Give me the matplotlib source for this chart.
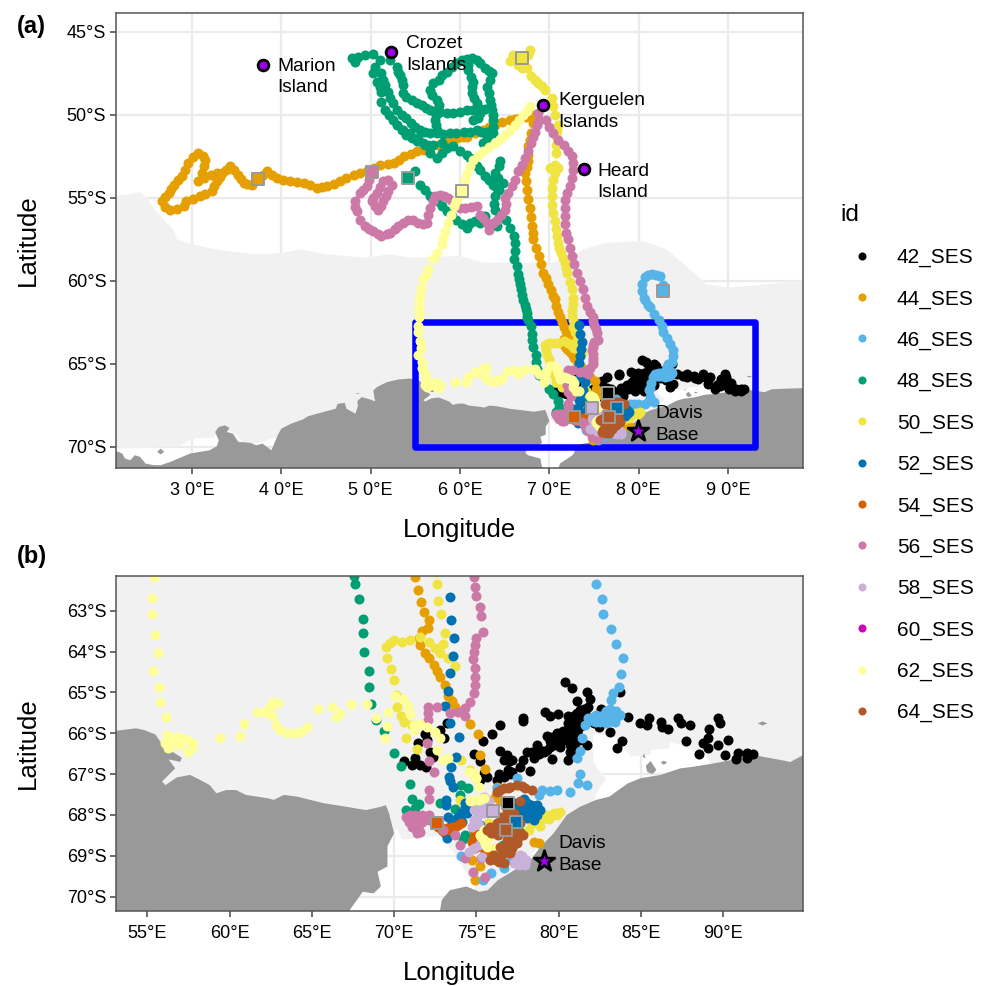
import matplotlib
matplotlib.use('Agg')
import matplotlib.pyplot as plt
from matplotlib.lines import Line2D
from matplotlib.patches import Polygon, Rectangle

plt.rcParams['font.family'] = ['Liberation Sans', 'DejaVu Sans']

# all positions below are (longitude E, latitude S)
ids = ['42_SES', '44_SES', '46_SES', '48_SES', '50_SES', '52_SES',
       '54_SES', '56_SES', '58_SES', '60_SES', '62_SES', '64_SES']
colours = ['#000000', '#E69F00', '#56B4E9', '#009E73', '#F0E442', '#0072B2',
           '#D55E00', '#CC79A7', '#C9B1D9', '#D000C0', '#FFFF99', '#B15928']

ses_42 = [(80.4,64.75),(80.83,64.9),(81.72,65.0),(81.15,65.2),(81.92,65.15),(83.75,65.0),(81.82,65.35),(81.3,65.43),
 (82.6,65.4),(84.25,65.6),(84.96,65.74),(85.47,65.63),(85.36,65.8),(86.23,65.72),(86.28,65.84),(86.64,65.89),
 (87.25,65.63),(87.45,65.76),(88,65.8),(89.68,65.62),(89.82,65.76),(89.17,65.9),(83.1,65.98),(83.85,66.19),
 (83.54,66.37),(87.73,66.19),(88.8,66.25),(89.1,66.12),(89.1,66.35),(89.68,66.29),(90.32,66.16),(88.56,66.51),
 (90.12,66.54),(90.77,66.64),(90.93,66.49),(91.44,66.49),(91.44,66.61),(91.84,66.52),(79.19,65.47),(79.49,65.58),
 (79.94,65.53),(80.57,65.57),(77.83,65.63),(77.83,65.69),(76.42,65.8),(75.95,66.02),(75.38,66.19),(80.91,65.68),
 (81.32,65.59),(81.62,65.51),(81.72,65.68),(82.13,65.76),(82.43,65.84),(80.91,65.84),(80.5,65.92),(80.1,66),
 (79.29,66.06),(79.7,66.16),(80.3,66.08),(80.91,66.08),(81.32,66.16),(81.72,66.29),(79.9,66.25),(79.49,66.33),
 (79.09,66.45),(78.68,66.29),(78.08,66.47),(78.38,66.45),(80.7,66.45),(79.6,66.64),(80.55,66.65),(77.87,66.65),
 (77.67,66.82),(77.17,66.96),(78.28,66.92),(76.46,66.43),(76.86,66.53),(76.66,66.65),(76.96,66.69),(77.17,66.65),
 (74.84,66.52),(75.24,66.69),(75.45,66.98),(75.65,67.06),(75.24,67.14),(76.25,67.14),(76.66,67.06),(77.07,66.99),
 (73.22,65.76),(72.81,65.92),(71.9,66.03),(72,66.16),(73.02,66.12),(71.44,66.23),(72.2,66.47),(72.37,66.57),
 (70.59,66.67),(71.3,66.6),(71.09,66.78),(71.6,66.78),(71.96,66.83),(79.9,66.12),(80.5,66.16),(80.1,66.33),
 (80.7,66.29),(81.1,65.84),(81.3,65.76),(81,65.55),(80.6,65.75),(80.3,65.95),(79.5,66.2),(79.9,66),(80.7,66),(81.1,66),
 (81.5,65.6),(81.1,65.5),(81.55,65.4),(80.8,65.95),(80.4,66.05),(80.15,66.2),(79.75,66.3),(79.3,66.4),(78.9,66.4),
 (80.95,66.2),(81,66.35),(80.6,66.1),(81.2,65.9),(81.5,65.8),(79.6,66.08),(80.05,66.1),(78.8,66.5),(78.5,66.6),(76.9,66.9),(76.4,67)]

ses_44 = [(37.35,53.86),(36.7,54.2),(36.2,54.15),(35.8,54.1),(35.5,53.85),(35.2,53.6),(34.7,53.3),(34.3,53.1),(33.8,53.3),
 (33.4,53.5),(33.1,53.75),(32.8,54),(32.5,54.3),(32.2,54.6),(31.5,54.75),(30.9,54.9),(30.1,55.05),(29.3,55.2),(29.1,55.5),
 (28.3,55.65),(27.6,55.7),(27,55.55),(26.6,55.2),(27,54.95),(27.4,54.7),(27.7,54.45),(28,54.2),(28.45,53.95),(28.9,53.7),
 (29.25,53.3),(29.6,52.9),(30.1,52.55),(30.7,52.3),(31.2,52.45),(31.5,52.7),(31.3,53.1),(31.1,53.5),(30.7,54),(31.4,53.8),
 (32.1,53.6),(32.8,53.5),(37.9,53.6),(38.4,53.4),(39,53.6),(39.5,53.8),(40.2,53.9),(41,54),(41.8,54.05),(42.5,54.1),
 (43.2,54.25),(44,54.4),(44.6,54.35),(45.1,54.3),(45.9,54.15),(46.6,54),(47.3,53.8),(48.1,53.6),(48.8,53.5),(49.6,53.4),
 (50.4,53.2),(51.1,53),(51.9,52.95),(52.6,52.9),(53.2,52.7),(53.7,52.5),(54.5,52.35),(55.2,52.2),(56,52.1),(56.7,52),
 (57.5,51.8),(58.2,51.6),(59,51.5),(59.7,51.4),(60.3,51.35),(60.8,51.3),(61.7,51.1),(62.6,50.9),(63.2,50.75),(63.9,50.6),
 (64.7,50.45),(65.6,50.3),(66.2,50.25),(66.7,50.2),(67.4,50.1),(68,50),(68.2,50.5),(68,51.1),(67.85,51.5),(67.65,51.9),
 (67.65,52.4),(67.65,52.8),(67.45,53.15),(67.3,53.5),(67.4,54),(67.5,54.5),(67.65,55.05),(67.8,55.6),(67.95,56.15),(68.1,56.7),
 (68.15,57.1),(68.2,57.5),(68.5,58),(68.8,58.5),(69.05,59),(69.3,59.5),(69.6,59.85),(69.9,60.2),(70.15,60.55),(70.45,60.9),
 (70.6,61.1),(70.8,61.5),(71,61.85),(71.25,62.18),(71.45,62.49),(71.65,62.78),(71.85,63.04),(72.1,63.23),(72.05,63.43),(71.7,63.51),
 (71.5,63.68),(71.6,63.84),(71.9,64.04),(72.1,64.15),(72.4,64.33),(72.6,64.47),(72.8,64.62),(73.1,64.82),(73.3,65.1),(73.5,65.2),
 (73.7,65.35),(74.6,65.77),(75.1,66.03),(75.2,66.53),(75.5,66.88),(76.25,67.31),(76.15,67.55),(76.4,67.6),(76.7,67.7),(78.8,68.69),
 (78.5,68.65),(74.75,69.1),(75.2,69.26),(74.9,69.59)]

ses_46 = [(82.7,60.6),(82.7,60.24),(82.4,59.7),(81.9,59.62),(81.5,59.58),(81.1,59.65),(80.7,59.76),(80.4,60.18),(80.4,60.6),
 (80.6,61.02),(80.7,61.14),(81.1,61.45),(81.3,61.6),(81.75,62),(82.3,62.34),(82.67,62.71),(82.73,63.09),(83.2,63.44),(83.5,63.82),
 (83.9,64.15),(83.8,64.54),(83.7,64.86),(83.3,65.02),(83.2,65.19),(83.1,65.41),(83.75,65.55),(83.45,65.72),(82.9,65.6),(82.5,65.63),
 (82.1,65.6),(81.8,65.63),(82.9,65.76),(82.5,65.72),(83.3,65.55),(81.6,65.81),(81.4,66.12),(81.3,66.43),(81.15,66.6),(81.3,67),
 (81.2,67.22),(81.75,67.27),(80.7,67.43),(79.9,67.39),(79.5,67.41),(79,67.39),(78.8,67.51),(77.5,67.1),(76.25,67.35),(74.1,69),
 (75.9,69.41),(75.4,69.59),(76.66,69.3),(77.1,69.1),(82.3,65.55),(82.7,65.55),(83.1,65.6),(83.5,65.6),(83.5,65.45),(82.3,65.72),
 (82.1,65.7),(82.9,65.45),(83.2,65.7)]

ses_48 = [(47.9,46.6),(48.25,46.8),(48.6,46.5),(49.4,46.4),(50.3,46.3),(51.05,46.7),(50.5,47.1),(50.3,47.5),(50.7,48),(51,48.3),
 (51.2,48.6),(51.2,49.2),(51.6,49.7),(52.05,50),(52.5,50.3),(53,50.6),(53.5,50.9),(54,51.2),(54.6,51.4),(55.2,51.6),(55.9,51.7),
 (56.45,51.8),(57,51.8),(58,51.7),
 (52.2,46.7),(52.9,47.1),(53.1,47.4),(53.3,47.6),(53.5,47.9),(53.65,48.2),(53.65,48.7),(54,48.9),(54.6,49.1),(55.15,49.3),(55.7,49.4),
 (56.2,49.6),(56.65,49.7),(57.2,49.8),(57.8,49.8),(58.5,49.9),(59.25,49.9),(60,49.8),(60.75,49.7),(61.5,49.7),(62.25,49.7),(62.85,49.65),(63.4,49.6),
 (51.2,47.5),(51.4,47.9),(51.6,48.2),(51.9,48.6),(52.2,49),(52.5,49.3),(52.9,49.7),(53.5,50),(54,50.2),(54.5,50.5),(55,50.7),
 (55.5,50.9),(56.1,51),(56.7,51.1),(57.4,51.1),(58.1,51.15),(58.9,51.1),(59.6,51.1),(60.4,51),(61.1,51),(61.9,50.9),(62.4,51),
 (63,51),(63.7,51.1),
 (57.4,50.9),(57.3,50.6),(57.2,50.3),(57.3,50),(57.4,49.7),(57.6,49.4),(57.4,49.1),(56.9,48.8),(56.7,48.5),(57,48.1),(57.6,47.9),
 (58,47.6),(58.5,47.4),(59.1,47.1),(59.6,46.9),(60.2,46.7),(60.75,46.65),(61.4,46.6),(61.9,46.7),(62.25,46.9),(62.8,47.2),(63.2,47.35),(63.55,47.5),
 (63.4,47.9),(63,48.3),(63.2,48.7),(63.4,49.1),(63.5,49.4),(63.55,49.7),(63.65,50),(63.7,50.3),(63.65,50.7),(63.4,51.1),(63,51.4),(62.6,51.7),
 (60.9,47),(60.9,47.3),(61.2,47.7),(61.5,48),(61.4,48.3),(61.3,48.7),(61.6,49),(61.9,49.3),(62.1,49.6),(62.25,49.9),(62.05,50.2),(61.5,50.3),
 (53.65,50.9),(54.4,51.1),(55.3,51.4),(56.1,51.8),(56.65,52.3),(57.4,52.6),(58,52.3),(58.5,52),(59.25,51.9),(60,52.15),(60.75,52.4),
 (61.1,52.6),(61.5,52.8),(61.9,53.05),(62.25,53.3),(62.8,53.7),(63.2,53.9),(63.7,54.2),(64.1,54.4),
 (64.5,52.8),(64.4,53.1),(63.9,53.5),(64.3,53.8),(64.85,54.1),(64.4,54.5),(63.9,54.9),(63.8,55.35),(63.9,55.7),(64.5,56),(65.2,56.3),
 (65.6,56.8),(66,57.3),(66.15,57.7),(66.15,58.2),(66,58.7),(66.35,59.1),(66.55,59.6),(66.6,59.9),(66.7,60.2),(66.8,60.5),(66.9,60.85),
 (67.1,61.15),(67.3,61.45),(67.4,61.7),(67.45,61.95),(67.55,62.15),
 (54.2,53.8),(55,53.4),(55.5,54.2),(56.1,54.5),(56.65,54.9),(57.4,55.2),(57.95,55.5),(58.5,55.8),(59.1,56.1),(59.6,56.3),(60.2,56.6),
 (60.75,56.8),(61.1,56.5),(61.65,56.4),(62.25,56.5),(62.8,56.1),(63.55,56.6),(64.1,56.7),
 (67.65,62.36),(67.9,62.71),(68.1,63.2),(68.1,63.55),(68.2,64),(68.5,64.47),(68.5,64.86),(68.6,65.29),(68.9,65.68),(69.4,65.94),
 (70,66.49),(70.4,66.8),(71,67.25),(71.1,67.6),(71.5,67.74),(71.3,67.84),(70.7,67.88),(70.8,68.04),(72.8,67.7),(73.7,67.85),
 (74.1,67.27),(74.5,67.33),(74,67.51),(74.3,68.49),(74.2,68.6),(76.6,68.73)]

ses_50 = [(67,46.6),(65.6,46.77),(65.97,46.37),(66.5,46.97),(66.9,47.17),(67.46,47.17),(67.84,46.06),(67.65,46.37),(66.3,46.5),(68,47.67),
 (68.4,47.87),(68.77,48.07),(69.15,48.27),(69.5,48.47),(70.26,48.98),(70.45,49.48),(70.63,49.98),(71,50.58),(70.9,50.95),(70.8,51.29),
 (70.8,51.8),(70.8,52.29),(70.63,52.99),(70.07,53.19),(71,53.19),(70.6,53.5),(70.45,53.9),(70.3,54.4),(70.26,54.9),(70.35,55.4),(70.45,55.9),
 (70.6,56.4),(70.75,56.9),(70.9,57.3),(71,57.7),(71.1,58),(71.3,58.3),(71.5,58.6),(71.75,58.9),(71.9,59.2),(72,59.5),(72.3,60.04),(72.5,60.5),
 (72.7,61.04),(72.6,61.4),(72.5,61.75),(72.55,62.05),(72.6,62.35),(72.7,62.76),(72.85,63.08),(73.1,63.55),(73,63.82),(72.5,63.92),(73.7,64.35),
 (73.3,64.17),(72.8,64.04),(72.1,63.76),(71.6,63.64),(71,63.72),(70.5,63.76),(70,63.73),(69.5,63.88),(69.75,63.78),(69.6,64.17),(69.8,64.44),
 (70,64.7),(70.1,65.06),(70.2,65.35),(70.45,65.57),(70.6,65.72),(71.1,65.8),(70.7,66.11),(71.4,66.38),(74.1,66.65),(74.6,66.9),(75,67.1),(74,67.63),
 (78.7,68.12),(79.3,68),(80.1,67.92),(78.9,68.28),(78.2,68.36),(79.7,67.95),(78.6,68),(78.4,68.2),(76.2,68.8),(75.7,68.2),(79,68.1),(79.4,68.1),
 (79.9,68),(78.6,68.2)]

ses_52 = [(73.38,62.66),(73.48,63.22),(73.62,63.66),(73.56,64.11),(73.42,64.53),(73.28,64.96),(73.12,65.33),(73.42,65.76),(73.97,66.08),
 (73.77,66.57),(73.48,66.83),(73.32,67.06),(73.38,67.18),(73.58,67.32),(73.18,67.63),(73.18,67.76),(73.26,68.04),(74.33,67.8),(74.43,67.96),
 (74.03,68.08),(73.22,68.57),(73.12,68.45),(77.67,67.71),(78.08,67.71),(78.48,67.84),(78.89,67.88),(78.68,68),(78.28,67.92),(77.87,67.76),
 (77.47,68),(78.08,68.08),(78.48,68.12),(77.27,67.71),(73.83,68.08),(74.23,67.96),(74.43,67.88),(74.13,68.16),(73.83,68.2),(74.33,67.71),
 (77.9,67.95),(77.5,67.85),(75,68.45),(75.2,68.25),(77.4,68.16),(77.3,68),(77.7,67.85),(77.9,67.6),(78.3,67.75),(78.7,67.75),(77.7,68.1),
 (78,67.9),(78.5,68),(73.5,68.2),(74.1,67.95),(74.6,67.75)]

ses_54 = [(72.6,68.2),(72.8,68.29),(72.9,68.37),(73.2,68.33),(73.4,68.37),(73.7,68.29),(74.1,68.2),(74.84,68.37),(74.84,68.53),(74.74,68.65),
 (75.24,68.77),(75.65,68.94),(72.7,68.3),(73,68.4),(73.5,68.3),(73.9,68.25),(74.9,68.45),(75,68.7),(75.5,68.9),(74.9,68.8)]

ses_56 = [(50.2,53.45),(49.85,53.9),(49.55,54.3),(49.2,54.5),(48.8,54.7),(48.25,55.2),(48.3,55.55),(48.45,55.8),(48.8,56.3),(49.4,56.7),
 (49.85,56.9),(50.3,57),(50.85,57.2),(51.2,57.3),(51.8,57.2),(52.15,57.1),(52.7,56.9),(53.1,56.7),(53.65,56.5),(54.2,56.3),(54.8,56.35),
 (55.35,56.5),(55.9,56.6),(56.3,56.5),(56.45,56),(56.65,55.6),(56.95,55.2),(57.2,54.9),(57.8,54.8),(58.2,54.9),(58.7,55),(59.1,55.2),
 (59.45,55.4),(60,55.6),(60.55,55.6),(61.2,55.55),(61.9,55.5),(62.25,56),(62.6,56.2),(63,56.5),(63.25,56.95),(63.75,56.5),(64.1,56.3),
 (64.55,56),(65,55.7),(65.2,55.35),(65,55),(65.4,54.7),(65.8,54.3),(66.15,53.9),(66.55,53.4),(66.9,53),(67.3,52.6),(67.65,52.15),
 (68,51.7),(68.2,51.35),(68.4,51),(68.6,50.6),(68.8,50.3),(68.7,49.9),
 (50.1,55.2),(50.5,55.5),(50.85,55.7),(51.2,55.5),(51.4,55.2),(51.7,54.9),(52,54.6),(52.35,54.2),(52,53.95),(51.4,54),(51.05,54.35),
 (50.7,54.7),(50.3,55),
 (69.6,50.3),(70,50.7),(70.4,51.1),(71,51.5),(71.6,51.8),(72.1,52.15),(72.5,52.5),(72.65,52.9),(72.7,53.3),(72.5,53.8),(72.3,54.3),(72,54.7),(71.75,55.1),
 (71.75,55.6),(71.75,56.1),(71.8,56.6),(71.9,57.1),(72.1,57.5),(72.3,58),(72.5,58.5),(72.8,59),(73.1,59.5),(73.45,60),(73.8,60.5),(74,61),(74.2,61.5),
 (74.6,61.85),(74.84,62.17),(74.9,62.43),(75,62.63),(75.2,62.92),(75.3,63.12),(75.4,63.53),(75,63.68),(74.9,63.84),(74.84,64),(74.8,64.19),
 (74.9,64.41),(74.9,64.62),(74.9,64.82),(74.84,65.02),(74.6,65.23),(74.3,65.39),(73.9,65.47),(74.3,65.59),(73.4,65.51),(72.6,65.35),(72.06,65.35),
 (72.06,65.51),(72.06,65.68),(72,66.25),(72.1,66.67),(72.4,66.96),(72.15,67.39),(72.15,67.61),
 (70.7,68.04),(71,68),(71.3,68),(71.7,68),(72.1,68),(70.9,68.16),(71.3,68.16),(71.7,68.16),(72.1,68.12),(71.3,68.33),(71.6,68.41),(71.1,68.29),
 (70.9,68.05),(71.5,68.05),(71.9,68.05),(71.5,68.25),(71.4,68.45),
 (73,68.37),(73.7,68.49),(74,68.73),(74.3,69.06),(74.8,69.39),(75.5,69.51),(75.3,69.06)]

ses_58 = [(74.84,67.88),(75.04,68.04),(75.24,67.8),(74.84,68.12),(75.14,68.24),(74.74,68.29),(75.45,67.55),(75.75,67.67),(75.45,67.96),(74.53,68.9),
 (74.84,68.82),(75.14,68.73),(75.34,69.02),(77.37,69.02),(77.77,69.1),(77.57,69.22),(77.98,69.22),(77.27,69.18),(77.67,68.98),
 (75,67.7),(75.2,67.95),(75,68.15),(75.4,67.75),(75.6,67.85),(77.5,69.1),(77.8,69),(77.4,69.15),(78,69.1)]

ses_60 = [(77.27,68.45)]

ses_62 = [(60.2,54.6),(67.84,49.48),(67.45,49.75),(67.1,49.98),(66.65,50.3),(66.2,50.58),(65.6,50.9),(65,51.2),(64.45,51.45),(63.9,51.7),
 (63.25,51.95),(62.6,52.2),(62,52.45),(61.5,52.7),(61.1,53.1),(60.75,53.5),(60.55,53.9),(60.4,54.3),(59.9,54.9),(59.6,55.2),(59.3,55.5),(59,56),(58.7,56.5),
 (58.35,57),(58.15,57.4),(57.95,57.8),(57.4,58.3),(57,58.7),(56.45,59.3),(56.2,59.6),(55.9,59.9),(55.6,60.4),(55.5,60.84),(55.45,61.1),(55.45,61.4),
 (55.45,61.65),(55.45,61.85),
 (55.4,62.18),(55.3,62.7),(55.3,63.09),(55.5,63.6),(55.65,64.04),(55.35,64.48),(55.73,64.88),(55.8,65.23),(56.14,65.6),(56.18,66.04),
 (56.08,66.25),(56.38,66.33),(56.79,66.08),(57.09,66.12),(57.39,66.16),(57.8,66.25),(57.49,66.45),(56.99,66.29),(56.58,66.16),(56.28,66.37),(57.69,66.37),
 (59.42,66.11),(60.64,66.06),(60.9,65.77),(61.7,65.49),(62.16,65.47),(62.46,65.35),(62.67,65.23),(62.97,65.27),(62.6,65.57),(62.8,65.81),
 (63.07,65.92),(63.48,66),(63.99,66),(64.33,65.98),(64.7,65.84),(65.37,65.41),(66.2,65.37),(66.72,65.5),(66.5,65.6),(67.37,65.28),(68.35,65.28),
 (68.9,65.62),(69.62,65.47),(69.56,65.82),(69.46,66.11),(70.07,65.1),(70.54,65.15),(70.82,65.33),(70.95,65.54),(71.2,65.8),(71.2,65.92),(71.6,65.77),
 (72,65.84),(72.5,65.96),(72.8,66.12),(72.6,66.41),(73,66.65),(73.3,66.61),(74.53,66.94),(74.84,66.98),(75,67.1),(75.14,67.31),(74.84,67.63),
 (75.14,67.63),(75.45,67.59),(75.24,68.49),(75.45,68.61),(75.65,68.78),(75.45,68.37),(76.25,68.82),(75.75,68.53),(75.3,68.55),(75.55,68.7),
 (75.5,68.45),(75.6,68.6),(74.6,67.65),(75.3,67.6)]

ses_64 = [(76.25,67.43),(76.66,67.35),(77.07,67.31),(77.47,67.27),(77.98,67.35),(78.38,67.39),(77.67,67.67),(76.86,67.88),(76.66,68.04),(76.25,68.2),
 (75.85,68.29),(75.65,68.37),(76.46,68.37),(76.86,68.45),(77.27,68.29),(77.27,68.53),(77.67,68.41),(77.87,68.49),(77.47,68.69),(77.17,68.82),(76.66,68.94),
 (76.25,69.02),(75.85,69.1),(76.66,69.18),(77.07,68.94),(76.86,68.78),(77.47,68.61),(77.27,67.96),(77.07,68.12),(76.05,68.45),(76.46,68.2),(76.86,68.2),
 (76.25,68.37),(77.67,68.2),(76.86,68.61),(76.46,68.78),(76.05,68.98),(76.5,68.05),(76.9,68.05),(77.2,68.1),(77.4,68.3),(77.1,68.4),(76.7,68.3),(75.9,68.45),
 (76.3,68.5),(77.6,68.5),(77.3,68.7),(77,68.65),(76.9,68.9),(76.5,69),(76.2,69.1),(76.4,69.15),(77.75,67.3),(76.9,67.33),(76.45,67.38)]

tracks = [ses_42, ses_44, ses_46, ses_48, ses_50, ses_52, ses_54, ses_56, ses_58, ses_60, ses_62, ses_64]

# last-position squares, they sit somewhat differently in the two panels
squares_a = {'42_SES': (76.55,66.75), '44_SES': (37.35,53.86), '46_SES': (82.7,60.6), '48_SES': (54.2,53.8),
             '50_SES': (67,46.6), '52_SES': (77.6,67.65), '54_SES': (72.8,68.2), '56_SES': (50.2,53.45),
             '58_SES': (74.8,67.65), '62_SES': (60.2,54.6), '64_SES': (76.7,68.17)}
squares_b = {'42_SES': (76.9,67.71), '52_SES': (77.4,68.16), '54_SES': (72.6,68.2), '58_SES': (76,67.9), '64_SES': (76.8,68.37)}

land_west = [(21,70.2),(21.6,70.26),(22.2,70.4),(22.5,70.7),(23.1,70.8),(23.6,70.5),(24.2,70.6),(24.8,71),(25.7,71.1),(26.5,71.1),(27.6,70.9),
 (28.7,70.65),(29.8,70.4),(30.9,70.3),(32,70.2),(32.8,69.95),(33,69.6),(32.6,69.1),(33,68.8),(33.7,68.7),(34.2,68.85),(33.9,69.1),(34.6,69.2),
 (35.2,69.7),(36.5,69.75),(37.2,69.9),(37.9,69.8),(38.9,70.2),(39.6,69.3),(40,68.9),(41.1,68.6),(42.4,68.35),(43,68.15),(44.7,67.9),(46.1,67.7),
 (46.3,67.4),(47.1,67.35),(47.3,67.7),(48.3,68),(48.6,67.5),(48.5,67.25),(49,67),(49.7,67.1),(50.5,67.25),(50.3,66.6),(50.7,66.4),(51.8,66.1),
 (53.1,65.94),(54.3,65.88),(54.8,65.92),(55.5,66.03),(56,66.33),(56.6,66.47),(57.1,66.6),(57,66.7),(56.3,66.64),(56.7,66.86),(55.9,67.18),(56.1,67.27),
 (56.8,67.08),(57.6,67.02),(58.2,67.14),(58.8,67.27),(59.2,67.47),(59.8,67.39),(60.4,67.39),(61,67.51),(62.3,67.59),(62.7,67.63),(63.3,67.51),(64.1,67.55),
 (65.7,67.71),(67.1,67.8),(68.3,67.88),(69.2,67.8),(69.5,67.76),(69.7,67.96),(70,68.45),(69.6,68.77),(69.6,69.26),(69,69.39),(69.2,69.75),(68.75,69.92),
 (68.1,69.88),(67.3,70.33),(67.6,70.5),(69,70.7),(69.3,71.5),(21,71.5)]

land_east = [(70.9,71.5),(71.2,71),(72.6,70.5),(72.8,70.33),(72.9,70.08),(73.4,69.84),(74.4,69.75),(75.2,69.88),(75.7,69.84),(76.3,69.6),(77.3,69.35),(78.3,69.1),
 (78.9,68.78),(79.7,68.45),(80.5,68),(81.3,67.8),(82.3,67.63),(83.1,67.55),(83.5,67.43),(84.2,67.23),(85,67.1),(86.2,67.02),(87.4,66.86),(88.2,66.82),
 (89.4,66.74),(90.6,66.65),(91.8,66.53),(92.9,66.61),(94.1,66.7),(94.9,66.53),(96,66.5),(99,66.45),(99,71.5)]

islands = [[(26.1,70.3),(26.5,70.1),(26.9,70.3),(26.5,70.45)],
           [(85.3,66.8),(85.6,66.68),(85.95,66.9),(85.7,67),(85.4,66.95)],
           [(86.2,66.72),(86.4,66.67),(86.6,66.72),(86.4,66.77)],
           [(85.1,66.57),(85.2,66.5),(85.3,66.62)],
           [(92.1,65.76),(92.4,65.71),(92.7,65.76),(92.4,65.81)],
           [(48.3,66.78),(48.7,66.75),(48.7,66.82)]]

ice = [(21,54.9),(22.7,54.8),(24.2,54.66),(25.1,55.1),(25.7,55.6),(26.8,56.3),(27.9,56.9),(28.3,57.5),(30.2,57.8),(31.7,58),(33.9,58.2),(37.3,58.4),
 (40.3,58.3),(42.1,58.1),(45.1,58.4),(49.2,58.6),(52.2,58.4),(54.4,58.6),(60,58.5),(62.6,58.9),(66.3,58.9),(70.1,58.9),(72,58.7),(73.8,58.1),(76.4,57.7),
 (80.5,57.6),(83.1,58.1),(84.9,58.9),(87.6,60.2),(89.9,60.4),(92.5,60.3),(96.2,60.1),(99,60.1),(99,66.6),(89.2,66.74),(89,66.53),(86.8,66.2),(86.7,66.37),
 (85.6,66.41),(85.6,66.53),(84.4,66.57),(83.5,66.12),(82.4,66),(82.1,66.04),(82.1,66.65),(82.4,66.9),(82.9,67.1),(82.3,67.47),(82.2,67.67),(77,69.4),
 (75.7,69.84),(75.2,69.9),(74.8,69.7),(73.8,69),(72.8,68.5),(71.1,68.58),(70.5,68.6),(70.2,68.35),(69.8,68.3),(69.8,68),(60,68.2),(45,68.5),(36.5,69.9),
 (35.6,69.68),(35,69.3),(34.1,69),(33,69),(32.4,69.45),(30.2,69.5),(29.1,69.8),(28.3,70),(21,70.1)]

place_names = ['Marion\nIsland', 'Crozet\nIslands', 'Kerguelen\nIslands', 'Heard\nIsland']
place_pos = [(37.95,47.0), (52.3,46.2), (69.3,49.4), (73.9,53.25)]
place_text = [(39.6,47.73), (54.0,46.36), (71.0,49.8), (75.35,54.05)]
davis_a = (79.94,69.05)
davis_b = (79.1,69.13)
box_lon = [55, 93]
box_lat = [62.5, 70]

ticks_a_x = [30, 40, 50, 60, 70, 80, 90]
ticks_a_xl = ['3 0°E', '4 0°E', '5 0°E', '6 0°E', '7 0°E', '8 0°E', '9 0°E']
ticks_a_y = [45, 50, 55, 60, 65, 70]
ticks_b_x = [55, 60, 65, 70, 75, 80, 85, 90]
ticks_b_y = [63, 64, 65, 66, 67, 68, 69, 70]

PURPLE = '#A000F0'
SIZE_T = 13


def south(points):
    return [(p[0], -p[1]) for p in points]


def base_map(ax):
    ax.set_axisbelow(True)
    ax.grid(True, color='#EBEBEB', lw=1.6)
    ax.add_patch(Polygon(south(ice), closed=True, fc='#F1F1F1', ec='none', zorder=1))
    for poly in [land_west, land_east] + islands:
        ax.add_patch(Polygon(south(poly), closed=True, fc='#999999', ec='none', zorder=2))
    for s in ax.spines.values():
        s.set_color('#555555')
        s.set_linewidth(1.1)
        s.set_zorder(30)
    ax.tick_params(length=4, width=1.1, color='#444444', labelsize=SIZE_T)
    ax.tick_params(axis='x', pad=6)
    ax.tick_params(axis='y', pad=3)
    ax.set_xlabel('Longitude', fontsize=18.5, labelpad=14)
    ax.set_ylabel('Latitude', fontsize=18.5, labelpad=19)


def draw_tracks(ax, squares):
    for i, (name, pts) in enumerate(zip(ids, tracks)):
        ax.scatter([p[0] for p in pts], [-p[1] for p in pts], s=52, color=colours[i],
                   linewidths=0, zorder=5 + i * 0.1)
    for name, pos in squares.items():
        ax.scatter(pos[0], -pos[1], s=70, marker='s', color=colours[ids.index(name)],
                   edgecolors='#999999', linewidths=1.4, zorder=7)


fig = plt.figure(figsize=(9.87, 9.86), dpi=100)
ax_a = fig.add_axes([116/987, 1-468/986, 687/987, 455/986])
ax_b = fig.add_axes([116/987, 1-911/986, 687/987, 335.5/986])

base_map(ax_a)
ax_a.set_xlim(21.5, 98.4)
ax_a.set_ylim(-71.27, -43.86)
ax_a.set_xticks(ticks_a_x, ticks_a_xl)
ax_a.set_yticks([-v for v in ticks_a_y], [f'{v}°S' for v in ticks_a_y])
ax_a.add_patch(Rectangle((box_lon[0], -box_lat[1]), box_lon[1]-box_lon[0], box_lat[1]-box_lat[0], fill=False,
                         ec='#0000FF', lw=4.7, joinstyle='round', zorder=3))
draw_tracks(ax_a, squares_a)

for pos, name, tpos in zip(place_pos, place_names, place_text):
    ax_a.scatter(pos[0], -pos[1], s=60, color=PURPLE, edgecolors='black', linewidths=2, zorder=8)
    ax_a.text(tpos[0], -tpos[1], name, fontsize=13.8, ha='left', va='center', linespacing=1.33, zorder=9)
ax_a.scatter(davis_a[0], -davis_a[1], s=240, marker='*', color=PURPLE, edgecolors='black', linewidths=2, zorder=8)
ax_a.text(81.9, -68.65, 'Davis\nBase', fontsize=13.8, ha='left', va='center', linespacing=1.33, zorder=9)

base_map(ax_b)
ax_b.set_xlim(53.1, 94.86)
ax_b.set_ylim(-70.35, -62.14)
ax_b.set_xticks(ticks_b_x, [f'{v}°E' for v in ticks_b_x])
ax_b.set_yticks([-v for v in ticks_b_y], [f'{v}°S' for v in ticks_b_y])
draw_tracks(ax_b, squares_b)
ax_b.scatter(davis_b[0], -davis_b[1], s=240, marker='*', color=PURPLE, edgecolors='black', linewidths=2, zorder=8)
ax_b.text(80.0, -68.97, 'Davis\nBase', fontsize=13.8, ha='left', va='center', linespacing=1.33, zorder=9)

fig.text(17/987, 1-27/986, '(a)', fontsize=17, fontweight='bold', ha='left', va='center')
fig.text(17/987, 1-556/986, '(b)', fontsize=17, fontweight='bold', ha='left', va='center')

handles = [Line2D([], [], ls='none', marker='o', ms=5.8, mfc=c, mec='none') for c in colours]
leg = fig.legend(handles, ids, title='id', loc='upper left', bbox_to_anchor=(822/987, 1-185/986), frameon=False,
                 fontsize=15, title_fontsize=17.5, labelspacing=1.063, handletextpad=0.7, alignment='left',
                 borderpad=0.4)

fig.savefig('out.png', dpi=100)
